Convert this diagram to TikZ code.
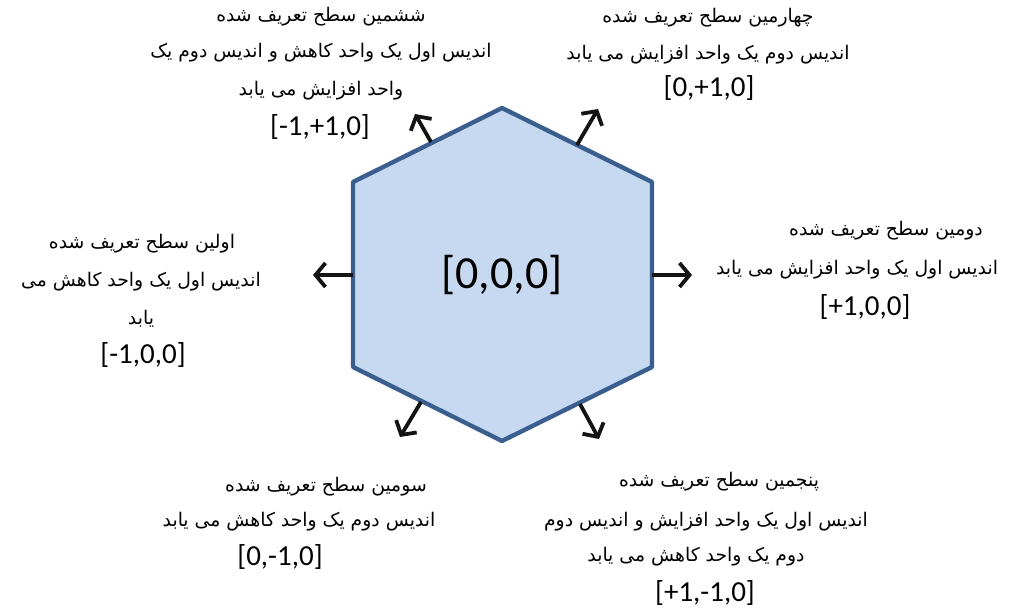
\documentclass[tikz,border=0pt]{standalone}
\usepackage{fontspec}
\usetikzlibrary{arrows.meta}
\TeXXeTstate=1
\newfontfamily\farsifont[Script=Arabic]{DejaVu Sans}
\newfontfamily\numfont{Carlito}
\newcommand\fatxt[1]{\farsifont\beginR #1\endR}
\definecolor{hexfill}{HTML}{C6D9F0}
\definecolor{hexline}{HTML}{3A5F8F}
\definecolor{arrcol}{HTML}{141414}
\tikzset{
  fa/.style={font=\farsifont\fontsize{18.8bp}{22bp}\selectfont, inner sep=0pt, text height=14bp, text depth=5bp},
  num/.style={font=\numfont\fontsize{29bp}{33bp}\selectfont, inner sep=0pt},
  big/.style={font=\numfont\fontsize{46bp}{50bp}\selectfont, inner sep=0pt},
  dirarrow/.style={draw=arrcol, line width=3.8bp, -{Straight Barb[length=10bp,width=24bp]}}
}
\begin{document}
\begin{tikzpicture}[x=1bp,y=-1bp]
\useasboundingbox (0,0) rectangle (1011,612);
% hexagon corners
\coordinate (vt) at (502,108);
\coordinate (vul) at (353,182);
\coordinate (vll) at (353,367);
\coordinate (vb) at (502,441);
\coordinate (vlr) at (652,367);
\coordinate (vur) at (652,182);
\draw[fill=hexfill, draw=hexline, line width=4.4bp, line join=round]
  (vt) -- (vur) -- (vlr) -- (vb) -- (vll) -- (vul) -- cycle;
\node[big] (hex) at (502,275) {[0,0,0]};
% arrow bases and tips
\coordinate (aL) at (353,275);   \coordinate (tL) at (313,275);
\coordinate (aR) at (652,275);   \coordinate (tR) at (692,275);
\coordinate (aUL) at (431,142);  \coordinate (tUL) at (415,114);
\coordinate (aUR) at (577,145);  \coordinate (tUR) at (598,109);
\coordinate (aLL) at (421,402);  \coordinate (tLL) at (400,437);
\coordinate (aLR) at (580,404);  \coordinate (tLR) at (599,439);
\draw[dirarrow] (aL) -- (tL);
\draw[dirarrow] (aR) -- (tR);
\draw[dirarrow] (aUL) -- (tUL);
\draw[dirarrow] (aUR) -- (tUR);
\draw[dirarrow] (aLL) -- (tLL);
\draw[dirarrow] (aLR) -- (tLR);
% top-left block
\node[fa] (tl1) at (321,17) {\fatxt{ششمین سطح تعریف شده}};
\node[fa] (tl2) at (321,53) {\fatxt{اندیس اول یک واحد کاهش و اندیس دوم یک}};
\node[fa] (tl3) at (321,91) {\fatxt{واحد افزایش می یابد}};
\node[num] (tl4) at (320,127) {[-1,+1,0]};
% top-right block
\node[fa] (tr1) at (708,18) {\fatxt{چهارمین سطح تعریف شده}};
\node[fa] (tr2) at (708,55) {\fatxt{اندیس دوم یک واحد افزایش می یابد}};
\node[num] (tr3) at (709,88) {[0,+1,0]};
% right block
\node[fa] (r1) at (886,231) {\fatxt{دومین سطح تعریف شده}};
\node[fa] (r2) at (857,270) {\fatxt{اندیس اول یک واحد افزایش می یابد}};
\node[num] (r3) at (865,307) {[+1,0,0]};
% left block
\node[fa] (l1) at (142,244) {\fatxt{اولین سطح تعریف شده}};
\node[fa] (l2) at (141,282) {\fatxt{اندیس اول یک واحد کاهش می}};
\node[fa] (l3) at (141,320) {\fatxt{یابد}};
\node[num] (l4) at (143,355) {[-1,0,0]};
% bottom-left block
\node[fa] (bl1) at (326,487) {\fatxt{سومین سطح تعریف شده}};
\node[fa] (bl2) at (299,522) {\fatxt{اندیس دوم یک واحد کاهش می یابد}};
\node[num] (bl3) at (280,557) {[0,-1,0]};
% bottom-right block
\node[fa] (br1) at (719,482) {\fatxt{پنجمین سطح تعریف شده}};
\node[fa] (br2) at (706,522) {\fatxt{اندیس اول یک واحد افزایش و اندیس دوم}};
\node[fa] (br3) at (696,557) {\fatxt{دوم یک واحد کاهش می یابد}};
\node[num] (br4) at (705,593) {[+1,-1,0]};
\end{tikzpicture}
\end{document}
